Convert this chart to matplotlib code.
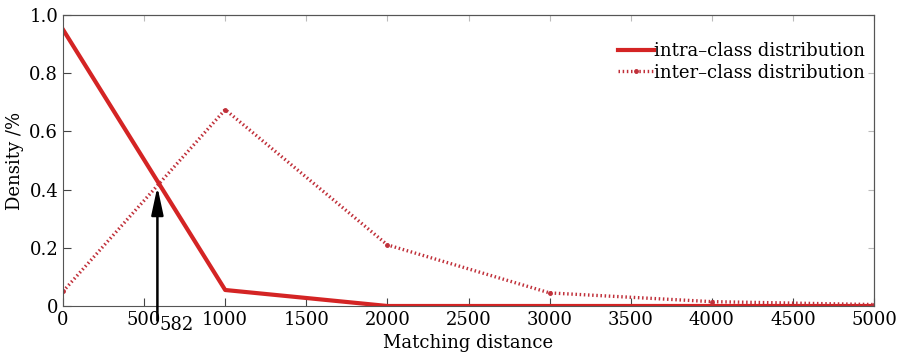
import matplotlib
matplotlib.use("Agg")
import matplotlib.pyplot as plt

x = [0, 1000, 2000, 3000, 4000, 5000]
intra = [0.95, 0.055, 0.0, 0.0, 0.0, 0.0]
inter = [0.05, 0.675, 0.21, 0.045, 0.015, 0.005]
xticks = [0, 500, 1000, 1500, 2000, 2500, 3000, 3500, 4000, 4500, 5000]
yticks = [0, 0.2, 0.4, 0.6, 0.8, 1.0]
ytick_labels = ["0", "0.2", "0.4", "0.6", "0.8", "1.0"]
cross_x = 582
arrow_tip_y = 0.41

plt.rcParams['font.family'] = ['DejaVu Serif']
fig = plt.figure(figsize=(8.99, 3.63), dpi=100)
ax = fig.add_axes([63/899, 1-306/363, (874-63)/899, (306-15)/363])

ax.plot(x, intra, color='#d42424', lw=3, label='intra\u2013class distribution')
ax.plot(x, inter, color='#c0303a', lw=2.4, ls=(0, (0.45, 0.8)), marker='.', ms=5,
        label='inter\u2013class distribution')

ax.annotate('', xy=(cross_x, arrow_tip_y), xytext=(cross_x, -0.05),
            arrowprops=dict(arrowstyle='-|>,head_width=0.3,head_length=1.4',
                            color='black', lw=1.8, mutation_scale=12, shrinkA=0, shrinkB=0),
            annotation_clip=False)
ax.text(cross_x + 10, -0.035, str(cross_x), ha='left', va='top', fontsize=13)

ax.set_xlim(0, 5000)
ax.set_ylim(0, 1.0)
ax.set_xticks(xticks)
ax.set_xticklabels([str(t) for t in xticks])
ax.set_yticks(yticks)
ax.set_yticklabels(ytick_labels)
ax.tick_params(direction='in', top=False, right=False, labelsize=13, length=6, color='#444444')
# faint ticks on top/right
sec_x = ax.secondary_xaxis('top')
sec_x.set_xticks(xticks)
sec_x.tick_params(direction='in', length=4, color='#bbbbbb', labeltop=False)
sec_y = ax.secondary_yaxis('right')
sec_y.set_yticks(yticks)
sec_y.tick_params(direction='in', length=4, color='#bbbbbb', labelright=False)
for s in list(ax.spines.values()) + list(sec_x.spines.values()) + list(sec_y.spines.values()):
    s.set_color('#555555')
ax.set_xlabel('Matching distance', fontsize=13, labelpad=4)
ax.set_ylabel('Density /%', fontsize=13, labelpad=4)
ax.legend(loc='upper right', frameon=False, fontsize=13, handlelength=2.0, handletextpad=0.0,
          borderaxespad=0.3, labelspacing=0.2, bbox_to_anchor=(1.005, 0.95))
fig.savefig('out.png', dpi=100)
